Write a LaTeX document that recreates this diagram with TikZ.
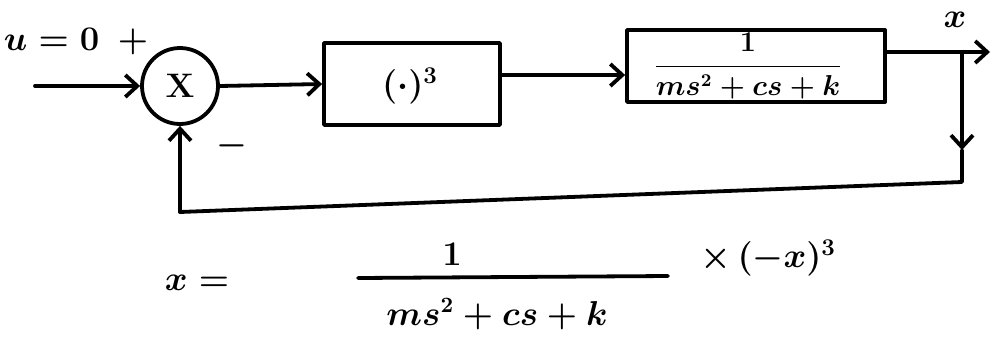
\documentclass[tikz,border=0pt]{standalone}
\usepackage{amsmath}
\usetikzlibrary{arrows.meta}
\begin{document}
\begin{tikzpicture}[x=0.5pt,y=-0.5pt, line width=1.9pt, line cap=round, line join=round,
  arr/.style={-{Straight Barb[length=6pt,width=11pt,line width=1.9pt]}},
  blk/.style={draw, rectangle, inner sep=0pt},
  lbl/.style={font=\fontsize{15}{18}\selectfont\boldmath, inner sep=0pt}]
\useasboundingbox (0,0) rectangle (994,338);
% blocks
\node[draw, circle, minimum size=38pt, inner sep=0pt, lbl, font=\fontsize{17}{20}\selectfont\bfseries] (mul) at (180,86) {X};
\node[blk, minimum width=88pt, minimum height=41pt] (cube) at (412,84) {};
\node[lbl, font=\fontsize{17}{20}\selectfont\boldmath] (cubet) at (410,86) {$(\cdot)^3$};
\node[blk, minimum width=129pt, minimum height=36pt] (plant) at (756,66) {};
\node[lbl, font=\fontsize{13.5}{16}\selectfont\boldmath] (plantt) at (748,66) {$\displaystyle\frac{1}{ms^2+cs+k}$};
% labels
\node[lbl, font=\fontsize{16}{19}\selectfont\boldmath] (ulab) at (76,42) {$u=0$\; $+$};
\node[lbl, font=\fontsize{17}{20}\selectfont\boldmath] (minus) at (232,146) {$-$};
\node[lbl, font=\fontsize{17}{20}\selectfont\boldmath] (xlab) at (955,20) {$x$};
% coordinates
\coordinate (in) at (35,86);
\coordinate (out) at (990,52);
\coordinate (tap) at (962,52);
\coordinate (mid) at (962,150);
\coordinate (fb1) at (962,182);
\coordinate (fb2) at (180,212);
% connectors
\draw[arr] (in) -- (mul.west);
\draw[arr] (mul.east) -- (cube.west);
\draw[arr] ([yshift=4.5pt]cube.east) -- ([yshift=4.5pt]cube.east -| plant.west);
\draw[arr] (plant.east |- out) -- (out);
\draw[arr] (tap) -- (mid);
\draw (mid) -- (fb1) -- (fb2);
\draw[arr] (fb2) -- (mul.south);
% bottom equation
\node[lbl, font=\fontsize{16}{19}\selectfont\boldmath] (xeq) at (197,283) {$x=$};
\node[lbl, font=\fontsize{16}{19}\selectfont\boldmath] (num) at (452,254) {$1$};
\coordinate (barL) at (358,278);
\coordinate (barR) at (668,276);
\draw (barL) -- (barR);
\node[lbl, font=\fontsize{16}{19}\selectfont\boldmath] (den) at (497,314) {$ms^2+cs+k$};
\node[lbl, font=\fontsize{17}{20}\selectfont\boldmath] (times) at (768,258) {$\times\,(-x)^3$};
\end{tikzpicture}
\end{document}
